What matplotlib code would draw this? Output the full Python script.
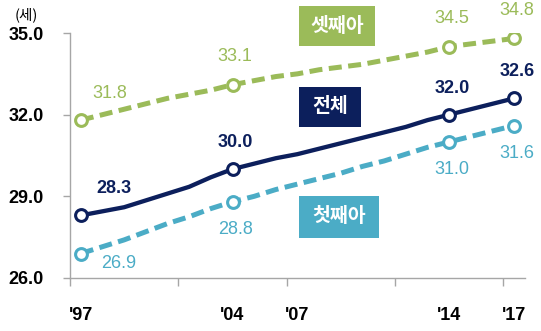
import matplotlib
matplotlib.use('Agg')
from matplotlib import pyplot as plt
from matplotlib.patches import Rectangle

plt.rcParams['font.family'] = ['Liberation Sans', 'Noto Sans CJK KR', 'DejaVu Sans']

# 연도 (1997 ~ 2017)
years = list(range(1997, 2018))
tick_labels = ["'97", "'04", "'07", "'14", "'17"]
tick_years = [1997, 2004, 2007, 2014, 2017]

# 출산순위별 모의 평균 출산연령 (세)
third = [31.8, 32.0, 32.2, 32.4, 32.6, 32.75, 32.9, 33.1, 33.25, 33.4, 33.5,
         33.65, 33.75, 33.85, 34.0, 34.15, 34.3, 34.5, 34.6, 34.7, 34.8]
total = [28.3, 28.45, 28.6, 28.85, 29.1, 29.35, 29.7, 30.0, 30.2, 30.4, 30.55,
         30.75, 30.95, 31.15, 31.35, 31.55, 31.8, 32.0, 32.2, 32.4, 32.6]
first = [26.9, 27.15, 27.4, 27.7, 28.0, 28.25, 28.55, 28.8, 29.0, 29.25, 29.45,
         29.65, 29.85, 30.1, 30.3, 30.55, 30.8, 31.0, 31.2, 31.4, 31.6]

label_years = [1997, 2004, 2014, 2017]

GREEN = '#9BBB59'
NAVY = '#0C1F5C'
TEAL = '#4BACC6'

fig = plt.figure(figsize=(5.41, 3.31), dpi=100)
ax = fig.add_axes([70 / 541, 1 - 278 / 331, 455 / 541, 245 / 331])

x = list(range(len(years)))
marks = [years.index(y) for y in label_years]

style = dict(marker='o', markevery=marks, markersize=8.5, markerfacecolor='white',
             markeredgewidth=2.2, zorder=3)
ax.plot(x, third, color=GREEN, lw=3.6, dashes=(2.6, 1.3), markeredgecolor=GREEN, **style)
ax.plot(x, first, color=TEAL, lw=3.6, dashes=(2.6, 1.3), markeredgecolor=TEAL, **style)
ax.plot(x, total, color=NAVY, lw=3.1, markeredgecolor=NAVY, **style)

# 값 표시 (첫 해는 오른쪽으로 비켜서)
for i in marks:
    off = (21, 19) if i == 0 else (2, 20)
    ax.annotate(f'{third[i]:.1f}', (i, third[i]), xytext=off, textcoords='offset points',
                ha='center', va='center', fontsize=13, color=GREEN)
    off = (24, 19) if i == 0 else (2, 19)
    ax.annotate(f'{total[i]:.1f}', (i, total[i]), xytext=off, textcoords='offset points',
                ha='center', va='center', fontsize=13, color=NAVY, fontweight='bold')
    off = (27, -7) if i == 0 else (2, -20)
    ax.annotate(f'{first[i]:.1f}', (i, first[i]), xytext=off, textcoords='offset points',
                ha='center', va='center', fontsize=13, color=TEAL)

ax.set_xlim(-0.5, 20.5)
ax.set_ylim(26, 35)
ax.set_yticks([26, 29, 32, 35])
ax.set_yticklabels(['26.0', '29.0', '32.0', '35.0'], fontsize=13, fontweight='bold')
ax.set_xticks([years.index(y) for y in tick_years])
ax.set_xticklabels(tick_labels, fontsize=13, fontweight='bold')
ax.set_xticks([-0.5, 4.5, 9.5, 14.5, 19.5], minor=True)
ax.tick_params(axis='x', which='major', length=0, pad=21)
ax.tick_params(axis='x', which='minor', length=6, width=1, color='#A6A6A6')
ax.tick_params(axis='y', length=5, width=1, color='#A6A6A6', pad=14)

for s in ['top', 'right']:
    ax.spines[s].set_visible(False)
for s in ['left', 'bottom']:
    ax.spines[s].set_color('#A6A6A6')
    ax.spines[s].set_linewidth(1)

fig.text(26 / 541, 1 - 15 / 331, '(세)', fontsize=10.5, ha='center', va='center',
         family=['Noto Sans CJK KR', 'DejaVu Sans'])

# 범례 박스
boxes = [('셋째아', GREEN, 299, 6, 76, 40),
         ('전체', NAVY, 299, 87, 62, 40),
         ('첫째아', TEAL, 299, 196, 80, 42)]
for text, c, bx, by, bw, bh in boxes:
    fig.patches.append(Rectangle((bx / 541, 1 - (by + bh) / 331), bw / 541, bh / 331,
                                 transform=fig.transFigure, facecolor=c, edgecolor='none'))
    fig.text((bx + bw / 2) / 541, 1 - (by + bh / 2) / 331, text, color='white',
             fontsize=14, fontweight='bold', ha='center', va='center',
             family=['Noto Sans CJK KR', 'DejaVu Sans'])

plt.savefig('out.png', dpi=100)
